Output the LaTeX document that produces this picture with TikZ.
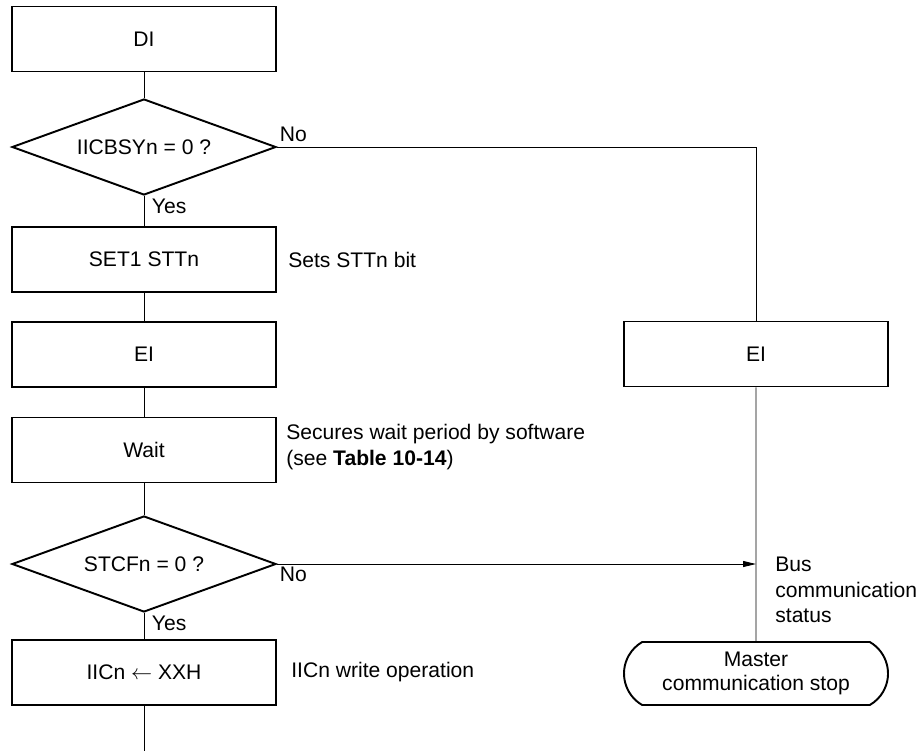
\documentclass[tikz,border=0pt]{standalone}
\usepackage{fontspec}
\setmainfont{Liberation Sans}
\usetikzlibrary{positioning, arrows.meta, shapes.geometric, shapes.misc}

\begin{document}
\begin{tikzpicture}[
  font=\fontsize{12}{14.5}\selectfont,
  box/.style={rectangle, draw, line width=1.1pt, align=center,
              minimum width=5.28cm, minimum height=1.3cm, inner sep=0pt},
  test/.style={diamond, draw, line width=1.1pt, aspect=2.75,
               minimum width=5.28cm, minimum height=1.92cm, inner sep=0pt},
  term/.style={rounded rectangle, rounded rectangle arc length=120, draw,
               line width=1.1pt, align=center, minimum width=5.28cm,
               minimum height=1.26cm, inner sep=0pt},
  note/.style={align=left, inner sep=0pt},
  tag/.style={inner sep=1.5pt},
  line/.style={line width=0.5pt},
  arr/.style={line, -{Triangle[length=2.6mm,width=1.2mm]}},
]
\useasboundingbox (0,0) rectangle (18.48,-15.06);

% ---- Left column ----
\node[box] (di) at (2.88,-0.78) {DI};
\node[test] (busy) at (2.88,-2.94) {IICBSYn = 0 ?};
\node[box] (set) at (2.88,-5.19) {SET1 STTn};
\node[box] (ei) at (2.88,-7.09) {EI};
\node[box] (wait) at (2.88,-9.0) {Wait};
\node[test] (stcf) at (2.88,-11.28) {STCFn = 0 ?};
\node[box] (iic) at (2.88,-13.45) {IICn $\leftarrow$ XXH};
\coordinate (out) at (2.88,-15.02);

% ---- Right column ----
\node[box] (eiR) at (15.12,-7.08) {EI};
\node[term, font=\fontsize{12}{13.5}\selectfont] (stop) at (15.12,-13.47)
   {Master\\communication stop};
\coordinate (bus) at (stcf.east -| eiR.south);

% ---- Notes ----
\node[note, anchor=west, right=0.22cm of set] (setnote) {Sets STTn bit};
\node[note, anchor=west, right=0.18cm of wait, yshift=0.06cm] (waitnote)
   {Secures wait period by software\\(see \textbf{Table 10-14})};
\node[note, anchor=west, right=0.28cm of iic] (iicnote) {IICn write operation};
\node[note, anchor=west] (busnote) at (15.5,-11.8) {Bus\\communication\\status};

% ---- Connectors ----
\draw[line] (di) -- (busy);
\draw[line] (busy) -- (set);
\draw[line] (busy.east) -| (eiR.north);
\draw[line] (set) -- (ei);
\draw[line] (ei) -- (wait);
\draw[line] (wait) -- (stcf);
\draw[line] (stcf) -- (iic);
\draw[line] (iic) -- (out);
\draw[arr] (stcf.east) -- (bus);
\draw[line] (eiR) -- (stop);

% ---- Branch labels ----
\node[tag, anchor=south west] (no1) at ([yshift=0.04cm]busy.east) {No};
\node[tag, anchor=north west] (yes1) at ([xshift=0.1cm]busy.south) {Yes};
\node[tag, anchor=north west] (no2) at (stcf.east) {No};
\node[tag, anchor=north west] (yes2) at ([xshift=0.1cm]stcf.south) {Yes};

\end{tikzpicture}
\end{document}
